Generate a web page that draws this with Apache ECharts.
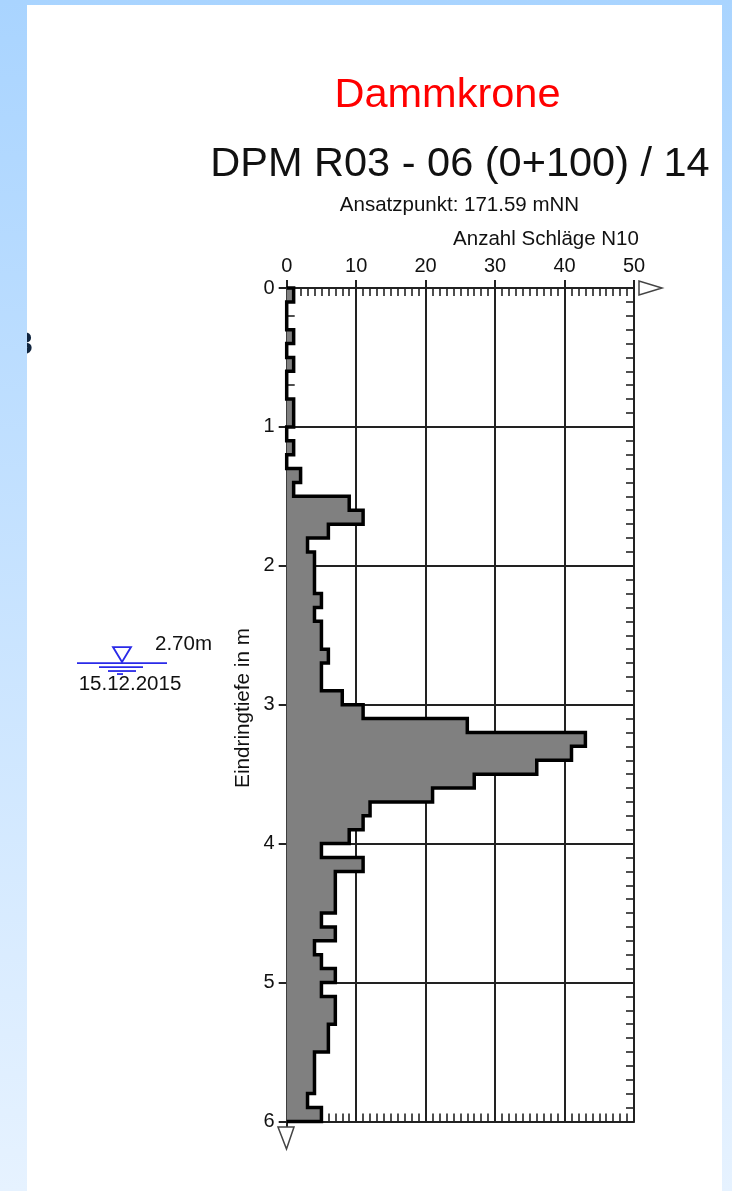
<!DOCTYPE html>
<html><head><meta charset="utf-8">
<style>html,body{margin:0;padding:0;background:#fff}#c{width:732px;height:1191px}</style>
<script src="https://cdn.jsdelivr.net/npm/echarts@6/dist/echarts.min.js"></script>
</head><body><div id="c"></div>
<script>
const depthStep = 0.1;
const blows = [1,0,0,1,0,1,0,0,1,1, 0,1,0,2,1,9,11,6,3,4,
  4,4,5,4,5,5,6,5,5,8, 11,26,43,41,36,27,21,12,11,9,
  5,11,7,7,7,5,7,4,5,7, 5,7,7,6,6,4,4,4,3,5];
const xTicks = [0,10,20,30,40,50];
const yTicks = [0,1,2,3,4,5,6];
const waterDepth = 2.70;
const titleRed = 'Dammkrone';
const titleBlack = 'DPM R03 - 06 (0+100) / 14';
const startPoint = 'Ansatzpunkt: 171.59 mNN';
const xName = 'Anzahl Schläge N10';
const yName = 'Eindringtiefe in m';
const waterLabel = '2.70m';
const waterDate = '15.12.2015';

const FONT = '"Liberation Sans", Arial, sans-serif';
const INK = '#111111', LINE = '#222222';
const G = {left:286.7, top:288, width:347.3, height:833.4};
const bg = () => new echarts.graphic.LinearGradient(0,0,0,1,[{offset:0,color:'#a9d4ff'},{offset:1,color:'#e6f2ff'}]);
const txt = (x,y,text,size,extra) => ({type:'text',silent:true,x,y,style:Object.assign({text,font:size+'px '+FONT,fill:INK,textVerticalAlign:'middle'},extra||{})});

const baseAxisX = {type:'value',min:0,max:50,interval:10};
const baseAxisY = {type:'value',min:0,max:6,interval:1,inverse:true};
const inside = (minorN) => ({
  axisLine:{show:true,onZero:false,lineStyle:{color:LINE,width:2}},
  axisLabel:{show:false},splitLine:{show:false},
  axisTick:{show:true,inside:true,length:8,lineStyle:{color:LINE,width:1.6}},
  minorTick:{show:true,splitNumber:minorN,length:8,lineStyle:{color:LINE,width:1.6}}
});

const chart = echarts.init(document.getElementById('c'),null,{renderer:'canvas'});
chart.setOption({
  animation:false,
  backgroundColor:'transparent',
  grid:[Object.assign({},G),Object.assign({},G),Object.assign({},G)],
  xAxis:[
    Object.assign({},baseAxisX,{gridIndex:0,position:'top',
      axisLine:{show:true,onZero:false,lineStyle:{color:LINE,width:2}},
      axisTick:{show:true,length:8,lineStyle:{color:LINE,width:2}},
      axisLabel:{show:true,margin:12,color:INK,fontFamily:FONT,fontSize:20,
        formatter:v=>xTicks.includes(v)?String(v):''},
      splitLine:{show:true,lineStyle:{color:LINE,width:2}}}),
    Object.assign({},baseAxisX,{gridIndex:1,position:'top'},inside(10)),
    Object.assign({},baseAxisX,{gridIndex:2,position:'bottom'},inside(10))
  ],
  yAxis:[
    Object.assign({},baseAxisY,{gridIndex:0,position:'left',
      axisLine:{show:true,onZero:false,lineStyle:{color:LINE,width:2}},
      axisTick:{show:true,length:8,lineStyle:{color:LINE,width:2}},
      axisLabel:{show:true,margin:12,color:INK,fontFamily:FONT,fontSize:20,padding:[2,0,0,0],
        formatter:v=>yTicks.includes(v)?String(v):''},
      splitLine:{show:true,lineStyle:{color:LINE,width:2}}}),
    Object.assign({},baseAxisY,{gridIndex:1,position:'left'},inside(10)),
    Object.assign({},baseAxisY,{gridIndex:2,position:'right'},inside(10))
  ],
  series:[{
    type:'custom',xAxisIndex:0,yAxisIndex:0,coordinateSystem:'cartesian2d',clip:false,z:5,
    data:blows.map((v,i)=>[v,i*depthStep]),
    encode:{x:0,y:1},
    renderItem:(params,api)=>{
      if(params.dataIndex!==0) return;
      const outline=[api.coord([0,0])];
      blows.forEach((v,i)=>{
        outline.push(api.coord([v,i*depthStep]));
        outline.push(api.coord([v,(i+1)*depthStep]));
      });
      outline.push(api.coord([0,blows.length*depthStep]));
      return {type:'group',children:[
        {type:'polygon',shape:{points:outline},style:{fill:'#808080',stroke:null}},
        {type:'polyline',shape:{points:outline},style:{fill:null,stroke:'#000',lineWidth:3.5,lineJoin:'miter'}}
      ]};
    }
  },{
    type:'custom',xAxisIndex:0,yAxisIndex:0,coordinateSystem:'cartesian2d',clip:false,z:5,
    data:[[0,waterDepth]],encode:{x:0,y:1},
    renderItem:(params,api)=>{
      const y=api.coord([0,waterDepth])[1];
      const blue='#2a2ae8';
      const seg=(a,b,dy)=>({type:'line',shape:{x1:a,y1:y+dy,x2:b,y2:y+dy},style:{stroke:blue,lineWidth:1.8}});
      return {type:'group',children:[
        seg(77,167,0),seg(99,143,4),seg(108,136,8),seg(117,123,11),
        {type:'polygon',shape:{points:[[113,y-16],[131,y-16],[122,y-1]]},style:{fill:null,stroke:blue,lineWidth:1.8}}
      ]};
    }
  }],
  graphic:{elements:[
    {type:'rect',z:-10,silent:true,shape:{x:0,y:0,width:732,height:1191},style:{fill:bg()}},
    {type:'rect',z:-9,silent:true,shape:{x:27,y:5,width:695,height:1186},style:{fill:'#fff'}},
    Object.assign(txt(15,345,'3',32,{fill:'#10253f',font:'bold 32px '+FONT}),{z:1}),
    {type:'rect',z:2,silent:true,shape:{x:0,y:0,width:27,height:1191},style:{fill:bg()}},
    Object.assign(txt(447.5,96,titleRed,41.5,{fill:'#ff0000',textAlign:'center'}),{z:3}),
    Object.assign(txt(460,164.5,titleBlack,41.5,{textAlign:'center'}),{z:3}),
    Object.assign(txt(459.5,205,startPoint,20.5,{textAlign:'center'}),{z:3}),
    Object.assign(txt(546,239,xName,20.5,{textAlign:'center'}),{z:3}),
    Object.assign(txt(183.5,644.5,waterLabel,20.5,{textAlign:'center'}),{z:3}),
    Object.assign(txt(130,684,waterDate,20.5,{textAlign:'center'}),{z:3}),
    Object.assign(txt(243,708,yName,20.7,{textAlign:'center'}),{z:3,rotation:Math.PI/2}),
    {type:'polygon',z:3,silent:true,shape:{points:[[639,281],[639,295],[662,288]]},style:{fill:'#fff',stroke:'#444',lineWidth:1.5}},
    {type:'line',z:3,silent:true,shape:{x1:287,y1:1121,x2:287,y2:1127},style:{stroke:LINE,lineWidth:2}},
    {type:'polygon',z:3,silent:true,shape:{points:[[278,1127],[294,1127],[286.5,1149]]},style:{fill:'#fff',stroke:'#444',lineWidth:1.5}}
  ]}
});
</script></body></html>
